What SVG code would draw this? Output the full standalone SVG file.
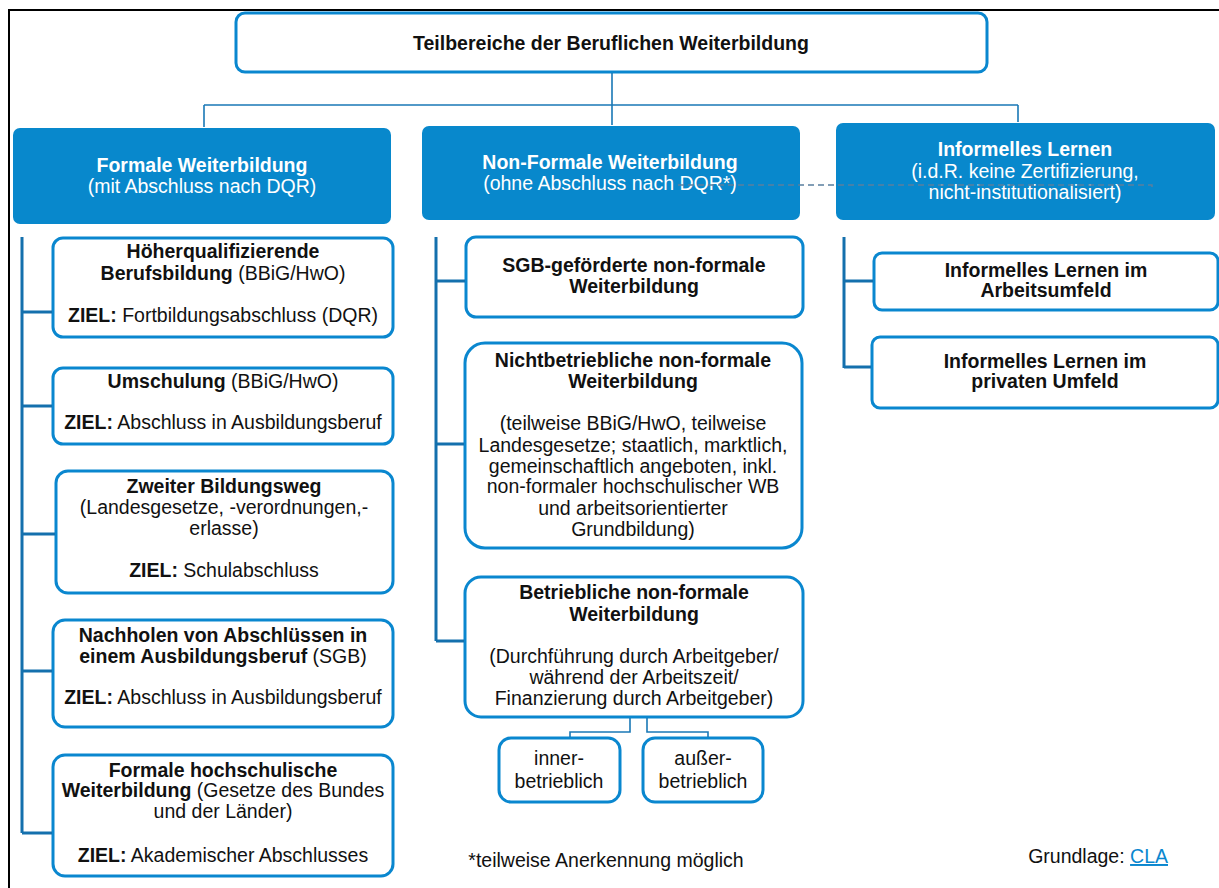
<svg xmlns="http://www.w3.org/2000/svg" width="1219" height="888" viewBox="0 0 1219 888">
<style>
text{font-family:"Liberation Sans",Arial,sans-serif;font-size:19.5px;fill:#111;text-anchor:middle}
.b{font-weight:bold}
.w{fill:#fff}
.box{fill:#fff;stroke:#0a87cf;stroke-width:3}
.hdr{fill:#0888cc}
.trunk{fill:none;stroke:#1470ad;stroke-width:3}
.conn{fill:none;stroke:#1a78b6;stroke-width:1.6}
</style>
<rect width="1219" height="888" fill="#fff"/>
<g id="frame" fill="none" stroke="#000" stroke-width="2">
<path d="M9 888 V10 H1219"/>
</g>
<g id="top">
<rect class="box" x="236" y="13" width="751" height="59" rx="9"/>
<text class="b" x="611" y="50">Teilbereiche der Beruflichen Weiterbildung</text>
</g>
<g id="formal">
<rect class="hdr" x="13" y="128" width="378" height="96" rx="7"/>
<text class="b w" x="202" y="172">Formale Weiterbildung</text>
<text class="w" x="202" y="193">(mit Abschluss nach DQR)</text>
</g>
<g id="nonformal">
<rect class="hdr" x="422" y="126" width="378" height="94" rx="7"/>
<text class="b w" x="610" y="169">Non-Formale Weiterbildung</text>
<text class="w" x="610" y="190">(ohne Abschluss nach DQR*)</text>
</g>
<g id="informal">
<rect class="hdr" x="836" y="123" width="379" height="97" rx="7"/>
<text class="b w" x="1025" y="156">Informelles Lernen</text>
<text class="w" x="1025" y="178">(i.d.R. keine Zertifizierung,</text>
<text class="w" x="1025" y="199">nicht-institutionalisiert)</text>
</g>
<g id="f1">
<rect class="box" x="53" y="238" width="340" height="99" rx="10"/>
<text class="b" x="223" y="258">Höherqualifizierende</text>
<text x="223" y="280"><tspan class="b">Berufsbildung</tspan> (BBiG/HwO)</text>
<text x="223" y="322"><tspan class="b">ZIEL:</tspan> Fortbildungsabschluss (DQR)</text>
</g>
<g id="f2">
<rect class="box" x="53" y="368" width="340" height="76" rx="10"/>
<text x="223" y="388"><tspan class="b">Umschulung</tspan> (BBiG/HwO)</text>
<text x="223" y="429"><tspan class="b">ZIEL:</tspan> Abschluss in Ausbildungsberuf</text>
</g>
<g id="f3">
<rect class="box" x="56" y="471" width="337" height="122" rx="12"/>
<text class="b" x="224" y="493">Zweiter Bildungsweg</text>
<text x="224" y="514">(Landesgesetze, -verordnungen,-</text>
<text x="224" y="535">erlasse)</text>
<text x="224" y="577"><tspan class="b">ZIEL:</tspan> Schulabschluss</text>
</g>
<g id="f4">
<rect class="box" x="53" y="620" width="340" height="107" rx="12"/>
<text class="b" x="223" y="642">Nachholen von Abschlüssen in</text>
<text x="223" y="663"><tspan class="b">einem Ausbildungsberuf</tspan> (SGB)</text>
<text x="223" y="704"><tspan class="b">ZIEL:</tspan> Abschluss in Ausbildungsberuf</text>
</g>
<g id="f5">
<rect class="box" x="53" y="755" width="340" height="121" rx="12"/>
<text class="b" x="223" y="777">Formale hochschulische</text>
<text x="223" y="797"><tspan class="b">Weiterbildung</tspan> (Gesetze des Bundes</text>
<text x="223" y="818">und der Länder)</text>
<text x="223" y="862"><tspan class="b">ZIEL:</tspan> Akademischer Abschlusses</text>
</g>
<g id="n1">
<rect class="box" x="466" y="237" width="337" height="80" rx="10"/>
<text class="b" x="634" y="272">SGB-geförderte non-formale</text>
<text class="b" x="634" y="293">Weiterbildung</text>
</g>
<g id="n2">
<rect class="box" x="465" y="343" width="337" height="205" rx="20"/>
<text class="b" x="633" y="367">Nichtbetriebliche non-formale</text>
<text class="b" x="633" y="388">Weiterbildung</text>
<text x="633" y="430">(teilweise BBiG/HwO, teilweise</text>
<text x="633" y="452">Landesgesetze; staatlich, marktlich,</text>
<text x="633" y="473">gemeinschaftlich angeboten, inkl.</text>
<text x="633" y="493">non-formaler hochschulischer WB</text>
<text x="633" y="515">und arbeitsorientierter</text>
<text x="633" y="536">Grundbildung)</text>
</g>
<g id="n3">
<rect class="box" x="465" y="577" width="338" height="140" rx="16"/>
<text class="b" x="634" y="599">Betriebliche non-formale</text>
<text class="b" x="634" y="621">Weiterbildung</text>
<text x="634" y="663">(Durchführung durch Arbeitgeber/</text>
<text x="634" y="684">während der Arbeitszeit/</text>
<text x="634" y="705">Finanzierung durch Arbeitgeber)</text>
</g>
<g id="n3a">
<rect class="box" x="499" y="738" width="121" height="64" rx="12"/>
<text x="559" y="765">inner-</text>
<text x="559" y="788">betrieblich</text>
</g>
<g id="n3b">
<rect class="box" x="643" y="738" width="120" height="64" rx="12"/>
<text x="703" y="765">außer-</text>
<text x="703" y="788">betrieblich</text>
</g>
<g id="i1">
<rect class="box" x="874" y="253" width="344" height="57" rx="8"/>
<text class="b" x="1046" y="277">Informelles Lernen im</text>
<text class="b" x="1046" y="297">Arbeitsumfeld</text>
</g>
<g id="i2">
<rect class="box" x="872" y="337" width="346" height="71" rx="8"/>
<text class="b" x="1045" y="368">Informelles Lernen im</text>
<text class="b" x="1045" y="388">privaten Umfeld</text>
</g>
<g id="notes">
<text x="606" y="867">*teilweise Anerkennung möglich</text>
<text x="1168" y="863" style="text-anchor:end">Grundlage: <tspan fill="#0a87cf" text-decoration="underline">CLA</tspan></text>
</g>
<g id="connectors">
<path class="conn" d="M612 73 V125 M204 105 H1018 M204 105 V127 M1018 105 V122"/>
<path class="trunk" d="M22 237 V833 M22 312 H52 M22 406 H52 M22 534 H55 M22 671 H52 M22 833 H52"/>
<path class="trunk" d="M436 237 V641 M436 281 H465 M436 444 H464 M436 641 H464"/>
<path class="trunk" d="M844 237 V368 M844 281 H873 M844 367 H871"/>
<path class="conn" d="M630 718 V732 H570 V737 M647 718 V732 H708 V737"/>
<path fill="none" stroke="#5a7f9e" stroke-width="1.5" stroke-dasharray="6 4" d="M678 185 H1152 V191"/>
</g>
</svg>
